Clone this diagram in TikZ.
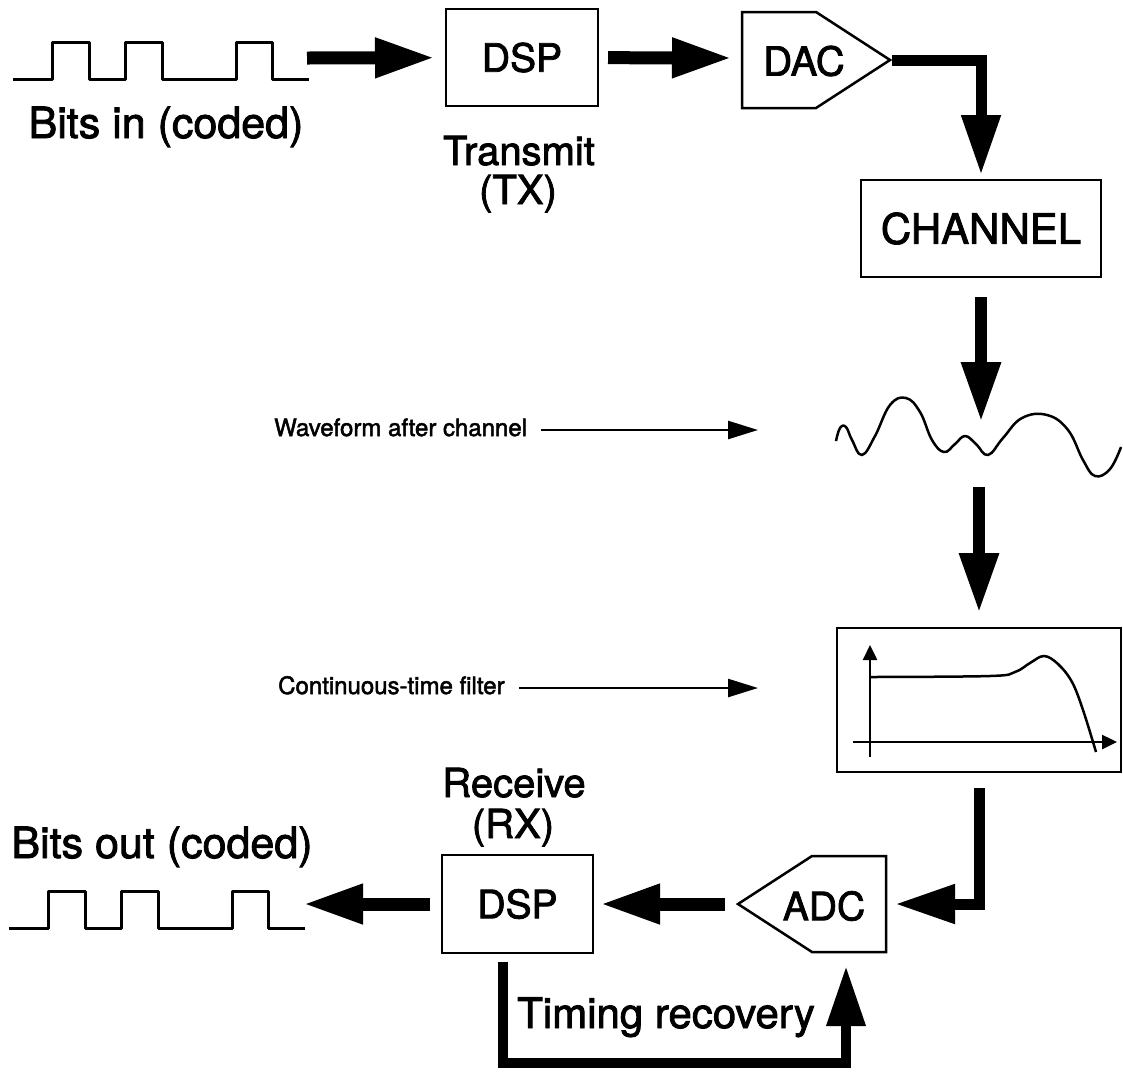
\documentclass[tikz,border=0pt]{standalone}
\usepackage{fontspec}
\setmainfont{TeX Gyre Heros}[FakeBold=2]
\usetikzlibrary{arrows.meta}
\begin{document}
\begin{tikzpicture}[x=1pt, y=-1pt]
  % Configurations
  \tikzset{
    box/.style={draw, line width=2.5pt, inner sep=0pt, outer sep=0pt},
    txt/.style={inner sep=0pt, font=\fontsize{#1}{#1}\selectfont},
    flow/.style={line width=#1, -{Triangle[length=60pt, width=37pt]}},
    hint/.style={line width=2.5pt, -{Triangle[length=30pt, width=18pt]}},
    trace/.style={line width=3pt, line join=round}
  }

  % Drawing objects
  \newcommand{\bits}{%
    -- +(39,0) -- +(39,-37) -- +(76,-37) -- +(76,0)
    -- +(112,0) -- +(112,-37) -- +(149,-37) -- +(149,0)
    -- +(223,0) -- +(223,-37) -- +(259,-37) -- +(259,0)
    -- +(296,0)
  }
  \newcommand{\conv}[1]{%
    -- +(#1*74,0)
    -- +(#1*148,48)
    -- +(#1*74,96)
    -- +(0,96)
    -- cycle
  }

  % Bounding box
  \path [use as bounding box, fill=white] (0,0) rectangle (1123,1072);

  % Transmit side
  \draw [trace] (13,79) \bits;
  \coordinate (bin) at (307,58);
  \node [txt=43, anchor=base] (binlbl) at (166,138) {Bits in (coded)};
  \node [box, minimum width=152pt, minimum height=97pt, txt=39] (txdsp) at (522,57.5) {DSP};
  \node [txt=40, anchor=base] (txlbl) at (519,165) {Transmit};
  \node [txt=40, anchor=base] (txtag) at (518,204) {(TX)};
  \draw [line width=2.5pt] (742,12) \conv{1};
  \node [txt=40] (dac) at (804,61) {DAC};
  \coordinate (dacin) at (742,58);
  \coordinate (dactip) at (890,60);
  \node [box, minimum width=240pt, minimum height=97pt, txt=42] (channel) at (981,228.5) {CHANNEL};

  % Channel output
  \draw [trace, line width=2.5pt] plot [smooth, tension=.7] coordinates {
    (836,441) (840,428) (846,427) (852,440) (862,455) (875,436) (890,405)
    (906,398) (920,412) (932,440) (944,452) (955,444) (965,436) (976,444)
    (988,455) (1003,438) (1022,418) (1047,415) (1068,430) (1083,460)
    (1095,476) (1110,469) (1121,447)};
  \coordinate (wavetop) at (981,422);
  \coordinate (wavebot) at (979,487);
  \node [txt=24, anchor=base west] (wavelbl) at (274,436) {Waveform after channel};
  \coordinate (waveptr) at (758,430);

  % Filter
  \node [box, minimum width=284pt, minimum height=144pt] (filt) at (979,700) {};
  \draw [line width=2.5pt, -{Triangle[length=15pt, width=14pt]}] (870,757) -- (870,645);
  \draw [line width=2.5pt, -{Triangle[length=15pt, width=14pt]}] (853,742) -- (1117,742);
  \draw [line width=2.5pt] plot [smooth, tension=.6] coordinates {
    (870,677) (990,676) (1015,672) (1030,663) (1044,656) (1058,664)
    (1072,682) (1083,710) (1096,752)};
  \node [txt=24, anchor=base west] (filtlbl) at (278,694) {Continuous-time filter};
  \coordinate (filtptr) at (758,688);

  % Receive side
  \draw [line width=2.5pt] (886,856) \conv{-1};
  \node [txt=39] (adc) at (824,906) {ADC};
  \coordinate (adcin) at (886,904);
  \coordinate (adctip) at (738,904);
  \coordinate (adcfoot) at (846,952);
  \node [box, minimum width=151pt, minimum height=98pt, txt=39] (rxdsp) at (517.5,904) {DSP};
  \node [txt=40, anchor=base] (rxlbl) at (514,797) {Receive};
  \node [txt=40, anchor=base] (rxtag) at (513,838) {(RX)};
  \draw [trace] (9,928) \bits;
  \coordinate (bout) at (303,904);
  \node [txt=43, anchor=base] (boutlbl) at (162,858) {Bits out (coded)};
  \coordinate (tcorner) at (846,1063);
  \node [txt=42, anchor=base west] (timing) at (517,1028) {Timing recovery};

  % Connectors
  \draw [flow=13pt, shorten >=11pt] (bin) -- (txdsp);
  \draw [flow=13pt, shorten <=10pt, shorten >=10pt] (txdsp) -- (dacin);
  \draw [flow=11pt, shorten <=2pt, shorten >=5pt] (dactip) -| (channel);
  \draw [flow=12pt, shorten <=20pt] (channel) -- (wavetop);
  \draw [flow=12pt, shorten >=15pt] (wavebot) -- (filt);
  \draw [flow=11pt, shorten <=16pt, shorten >=9pt] (filt) |- (adcin);
  \draw [flow=13pt, shorten <=13pt, shorten >=7pt] (adctip) -- (rxdsp);
  \draw [flow=13pt, shorten <=12pt] (rxdsp) -- (bout);
  \draw [flow=10pt, shorten <=9pt, shorten >=14pt] ([xshift=-15pt]rxdsp.south) |- (tcorner) -- (adcfoot);
  \draw [hint, shorten <=14pt] (wavelbl.east |- waveptr) -- (waveptr);
  \draw [hint, shorten <=14pt] (filtlbl.east |- filtptr) -- (filtptr);
\end{tikzpicture}
\end{document}
